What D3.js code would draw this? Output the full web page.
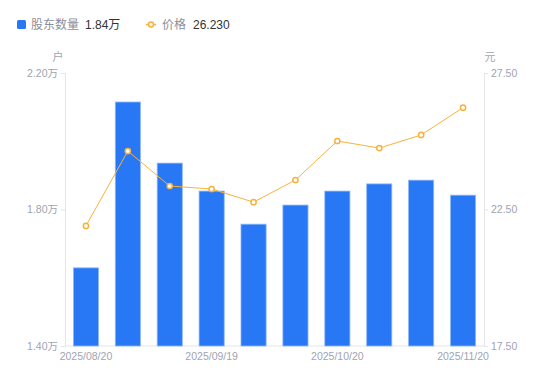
<!DOCTYPE html>
<html>
<head>
<meta charset="utf-8">
<script src="https://cdn.jsdelivr.net/npm/d3@7"></script>
<style>
  body { margin: 0; background: #fff; }
  svg text { font-family: "Liberation Sans", "Noto Sans CJK SC", sans-serif; }
</style>
</head>
<body>
<svg width="550" height="381"></svg>
<script>
const width = 550;
const height = 381;
const svg = d3.select("svg");

// data
const dates = ["2025/08/20", "2025/08/29", "2025/09/10", "2025/09/19", "2025/09/30",
               "2025/10/10", "2025/10/20", "2025/10/31", "2025/11/10", "2025/11/20"];
const holders = [1.629, 2.115, 1.936, 1.854, 1.757, 1.813, 1.854, 1.875, 1.886, 1.842];
const prices = [21.90, 24.64, 23.36, 23.25, 22.77, 23.58, 25.01, 24.75, 25.23, 26.23];
const leftTicks = [1.40, 1.80, 2.20];
const rightTicks = [17.50, 22.50, 27.50];
const shownDates = ["2025/08/20", "2025/09/19", "2025/10/20", "2025/11/20"];

const margin = { left: 65, right: 66, top: 73, bottom: 35 };
const x = d3.scaleBand().domain(dates).range([margin.left, width - margin.right]).paddingInner(0.4).paddingOuter(0.2);
const yL = d3.scaleLinear().domain([1.40, 2.20]).range([height - margin.bottom, margin.top]);
const yR = d3.scaleLinear().domain([17.5, 27.5]).range([height - margin.bottom, margin.top]);

const blue = "#2878f6";
const orange = "#f8b23c";
const gray = "#a0a4b0";
const axisColor = "#e3e5ea";

// axes
const left = svg.append("g").attr("transform", `translate(${margin.left},0)`)
  .call(d3.axisLeft(yL).tickValues(leftTicks).tickSize(4).tickPadding(3).tickFormat(d => d.toFixed(2) + "万"));
const right = svg.append("g").attr("transform", `translate(${width - margin.right},0)`)
  .call(d3.axisRight(yR).tickValues(rightTicks).tickSize(4).tickPadding(3).tickFormat(d => d.toFixed(2)));
const bottom = svg.append("g").attr("transform", `translate(0,${height - margin.bottom})`)
  .call(d3.axisBottom(x).tickValues(shownDates).tickSize(0).tickPadding(7));

[left, right, bottom].forEach(g => {
  g.select(".domain").attr("stroke", axisColor);
  g.selectAll(".tick line").attr("stroke", axisColor);
  g.selectAll(".tick text").attr("fill", gray).attr("font-size", 10.5)
    .style("font-family", '"Liberation Sans", "Noto Sans CJK SC", sans-serif');
});
bottom.select(".domain").attr("d", `M${margin.left},0H${width - margin.right}`);

// units
svg.append("text").attr("x", 58).attr("y", 61).attr("text-anchor", "middle")
  .attr("fill", gray).attr("font-size", 11).text("户");
svg.append("text").attr("x", 490).attr("y", 61).attr("text-anchor", "middle")
  .attr("fill", gray).attr("font-size", 11).text("元");

// bars
svg.append("g").selectAll("rect").data(dates).join("rect")
  .attr("x", d => x(d))
  .attr("width", x.bandwidth())
  .attr("y", (d, i) => yL(holders[i]))
  .attr("height", (d, i) => yL(1.40) - yL(holders[i]))
  .attr("fill", blue)
  .attr("stroke", "#8fb8fb").attr("stroke-width", 0.8);

// price line
const line = d3.line().x((d, i) => x(dates[i]) + x.bandwidth() / 2).y(d => yR(d));
svg.append("path").datum(prices).attr("d", line)
  .attr("fill", "none").attr("stroke", orange).attr("stroke-width", 1);
svg.append("g").selectAll("circle").data(prices).join("circle")
  .attr("cx", (d, i) => x(dates[i]) + x.bandwidth() / 2)
  .attr("cy", d => yR(d))
  .attr("r", 2.6)
  .attr("fill", "#fff").attr("stroke", orange).attr("stroke-width", 1.5);

// legend
const lg = svg.append("g");
lg.append("rect").attr("x", 17).attr("y", 20).attr("width", 9).attr("height", 9).attr("rx", 1.5).attr("fill", blue);
lg.append("text").attr("x", 31).attr("y", 29).attr("fill", "#8a8f9c").attr("font-size", 12).text("股东数量");
lg.append("text").attr("x", 85).attr("y", 29).attr("fill", "#333").attr("font-size", 12)
  .text(holders[holders.length - 1].toFixed(2) + "万");
lg.append("line").attr("x1", 146).attr("x2", 156).attr("y1", 24.5).attr("y2", 24.5).attr("stroke", orange).attr("stroke-width", 1.5);
lg.append("circle").attr("cx", 151).attr("cy", 24.5).attr("r", 2.5).attr("fill", "#fff").attr("stroke", orange).attr("stroke-width", 1.5);
lg.append("text").attr("x", 162).attr("y", 29).attr("fill", "#8a8f9c").attr("font-size", 12).text("价格");
lg.append("text").attr("x", 193).attr("y", 29).attr("fill", "#333").attr("font-size", 12)
  .text(prices[prices.length - 1].toFixed(3));
</script>
</body>
</html>
